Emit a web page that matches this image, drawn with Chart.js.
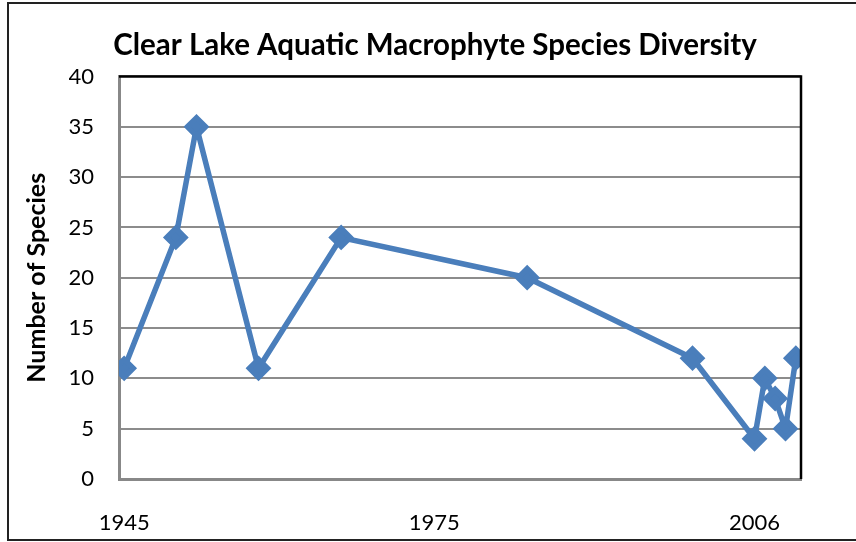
<!DOCTYPE html>
<html>
<head>
<meta charset="utf-8">
<script src="https://cdn.jsdelivr.net/npm/chart.js@4/dist/chart.umd.min.js"></script>
<style>
  html, body { margin: 0; padding: 0; background: #fff; }
  #wrap { width: 856px; height: 542px; position: relative; }
</style>
</head>
<body>
<div id="wrap"><canvas id="Species_Chart"></canvas></div>
<script>
// survey years and species counts
const years = [1945, 1950, 1952, 1958, 1966, 1984, 2000, 2006, 2007, 2008, 2009, 2010];
const species = [11, 24, 35, 11, 24, 20, 12, 4, 10, 8, 5, 12];
const yearTicks = [1945, 1975, 2006];

// frame around the whole chart + black top/right plot border
const framePlugin = {
    id: 'frame',
    beforeDraw(chart) {
        const c = chart.ctx;
        c.save();
        c.fillStyle = '#fff';
        c.fillRect(0, 0, chart.width, chart.height);
        c.strokeStyle = '#222';
        c.lineWidth = 2;
        c.strokeRect(8, 3, 900, 537);
        c.restore();
    },
    afterDatasetsDraw(chart) {
        const a = chart.chartArea;
        const c = chart.ctx;
        c.save();
        c.strokeStyle = '#000';
        c.lineWidth = 2.5;
        c.beginPath();
        c.moveTo(a.left, a.top);
        c.lineTo(a.right, a.top);
        c.lineTo(a.right, a.bottom);
        c.stroke();
        c.restore();
    }
};

const ctx = document.getElementById('Species_Chart').getContext('2d');
const myChart = new Chart(ctx, {
    type: 'line',
    data: {
        datasets: [{
            label: 'Species',
            data: years.map((y, i) => ({ x: y, y: species[i] })),
            borderColor: '#4a7ebb',
            backgroundColor: '#4a7ebb',
            borderWidth: 5.5,
            pointStyle: 'rectRot',
            pointRadius: 9,
            pointHoverRadius: 9,
            tension: 0
        }]
    },
    options: {
        responsive: true,
        maintainAspectRatio: false,
        animation: false,
        // left padding shifts the centred title; the y scale width makes up the rest
        layout: { padding: { left: 69, top: 0, right: 55, bottom: 0 } },
        plugins: {
            legend: { display: false },
            tooltip: { enabled: false },
            title: {
                display: true,
                text: 'Clear Lake Aquatic Macrophyte Species Diversity',
                color: '#000',
                font: { family: 'Lato', size: 29.5, weight: 'bold', lineHeight: 1.1 },
                padding: { top: 29, bottom: 15 }
            }
        },
        scales: {
            x: {
                type: 'linear',
                min: 1944.5,
                max: 2010.5,
                afterBuildTicks(scale) {
                    scale.ticks = yearTicks.map(v => ({ value: v }));
                },
                afterFit(scale) { scale.height = 63; },
                grid: { display: false, drawTicks: false },
                border: { color: '#888', width: 3 },
                ticks: {
                    color: '#000',
                    padding: 31,
                    maxRotation: 0,
                    autoSkip: false,
                    font: { family: 'Lato', size: 22 },
                    callback: v => String(v)
                }
            },
            y: {
                min: 0,
                max: 40,
                afterFit(scale) { scale.width = 50; },
                grid: { color: '#8c8c8c', lineWidth: 2, drawTicks: false },
                border: { color: '#888', width: 3 },
                ticks: {
                    stepSize: 5,
                    color: '#000',
                    padding: 25,
                    font: { family: 'Lato', size: 22 }
                },
                title: {
                    display: true,
                    text: 'Number of Species',
                    color: '#000',
                    font: { family: 'Lato', size: 25, weight: 'bold' },
                    padding: { top: -47, bottom: 0 }
                }
            }
        }
    },
    plugins: [framePlugin]
});
</script>
</body>
</html>
